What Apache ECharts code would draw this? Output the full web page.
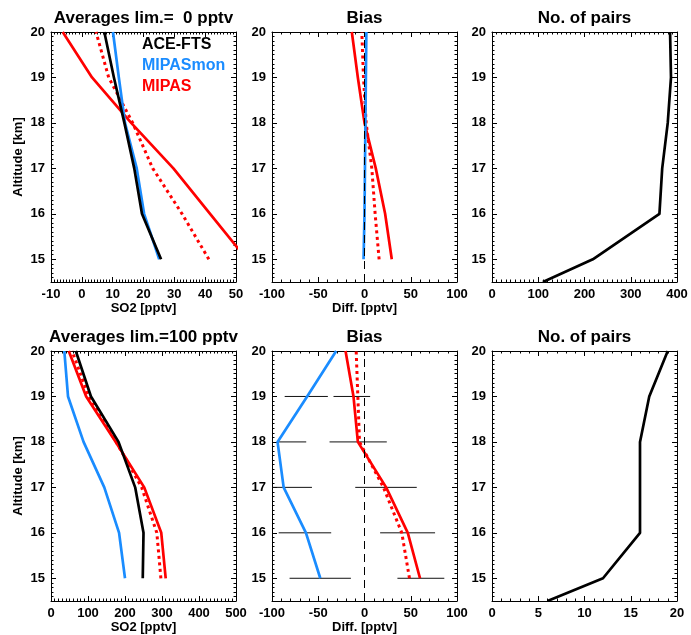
<!DOCTYPE html>
<html>
<head>
<meta charset="utf-8">
<script src="https://cdn.jsdelivr.net/npm/echarts@6/dist/echarts.min.js"></script>
<style>
  html, body { margin: 0; padding: 0; background: #fff; }
  #chart { width: 691px; height: 635px; }
</style>
</head>
<body>
<div id="chart"></div>
<script>
// Altitude levels of the comparison profiles [km]
const altitudes = [15, 16, 17, 18, 19, 20];
const pairAltitudes = [14.5, 15, 16, 17, 18, 19, 20];

// Averages, limit 0 pptv [pptv]
const aceTop = [25.7, 19.5, 17.0, 13.8, 10.4, 7.3];
const monTop = [25.1, 20.2, 17.8, 14.0, 12.0, 10.1];
const mipasTop = [53.5, 41.6, 29.7, 16.0, 3.3, -6.2];
const mipasDotTop = [41.2, 32.5, 23.0, 16.5, 8.7, 4.6];

// Bias, limit 0 pptv [pptv]
const biasMonTop = [-1.0, 0.0, 0.5, 1.0, 1.5, 2.0];
const biasMipasTop = [29.5, 22.3, 12.2, 0.0, -7.2, -13.7];
const biasMipasDotTop = [15.8, 11.5, 7.9, 1.8, -1.1, -2.9];

// Number of pairs, limit 0 pptv
const pairsTop = [110, 218, 362, 368, 380, 387, 385];

// Averages, limit 100 pptv [pptv]
const aceBot = [248, 250, 227.5, 182.5, 108, 67];
const monBot = [200, 184, 144, 88, 46, 36];
const mipasBot = [310, 298, 252, 175, 95, 48];
const mipasDotBot = [297, 286, 245, 176, 102, 57];

// Bias, limit 100 pptv [pptv]
const biasMonBot = [-47.8, -63.3, -87.4, -94.0, -62.0, -30.6];
const biasMipasBot = [60.0, 46.8, 23.4, -7.2, -11.9, -20.5];
const biasMipasDotBot = [48.6, 40.3, 20.5, -5.4, -7.2, -9.0];

// Error bar extents of the bias, limit 100 pptv [pptv]
const errAltitudes = [15, 16, 17, 18, 19];
const errMonLo = [-81.0, -92.8, -100.0, -94.6, -86.3];
const errMonHi = [-14.7, -36.0, -56.8, -63.0, -39.6];
const errMipasLo = [35.6, 16.9, -10.0, -37.8, -33.5];
const errMipasHi = [86.3, 76.3, 56.5, 24.1, 6.1];

// Number of pairs, limit 100 pptv
const pairsBot = [6, 12, 16, 16, 16, 17, 19];

// Tick labels
const altTicks = [15, 16, 17, 18, 19, 20];
const so2TicksTop = [-10, 0, 10, 20, 30, 40, 50];
const so2TicksBot = [0, 100, 200, 300, 400, 500];
const biasTicks = [-100, -50, 0, 50, 100];
const pairTicksTop = [0, 100, 200, 300, 400];
const pairTicksBot = [0, 5, 10, 15, 20];

const FONT = '"Liberation Sans", Arial, Helvetica, sans-serif';
const BLACK = '#000000';
const BLUE = '#1a8cff';
const RED = '#ff0000';
const LW = 2.7;

// evenly spaced minor tick positions between min and max
function steps(min, max, step) {
  const out = [];
  const n = Math.round((max - min) / step);
  for (let i = 0; i <= n; i++) out.push(+(min + i * step).toFixed(6));
  return out;
}

const panels = [
  { left: 51,  top: 32,  xMin: -10,  xMax: 50,  xTicks: so2TicksTop,  xMinor: 1,  xName: 'SO2 [pptv]',   yName: 'Altitude [km]', title: 'Averages lim.=  0 pptv', row: 0 },
  { left: 272, top: 32,  xMin: -100, xMax: 100, xTicks: biasTicks,    xMinor: 10, xName: 'Diff. [pptv]', title: 'Bias', row: 0 },
  { left: 492, top: 32,  xMin: 0,    xMax: 400, xTicks: pairTicksTop, xMinor: 10, xName: '',            title: 'No. of pairs', row: 0 },
  { left: 51,  top: 351, xMin: 0,    xMax: 500, xTicks: so2TicksBot,  xMinor: 10, xName: 'SO2 [pptv]',   yName: 'Altitude [km]', title: 'Averages lim.=100 pptv', row: 1 },
  { left: 272, top: 351, xMin: -100, xMax: 100, xTicks: biasTicks,    xMinor: 10, xName: 'Diff. [pptv]', title: 'Bias', row: 1 },
  { left: 492, top: 351, xMin: 0,    xMax: 20,  xTicks: pairTicksBot, xMinor: 1,  xName: '',            title: 'No. of pairs', row: 1 }
];
const PW = 185, PH = 250, Y_MIN = 14.5, Y_MAX = 20;

const grids = [], xAxes = [], yAxes = [], graphics = [];
const mainX = [], mainY = [];

const tickStyle = { color: BLACK, width: 1 };
const labelStyle = { color: BLACK, fontSize: 13, fontWeight: 'bold', fontFamily: FONT };

panels.forEach((p, i) => {
  grids.push({ left: p.left, top: p.top, width: PW, height: PH, outerBoundsMode: 'none', containLabel: false });

  const xMinorVals = steps(p.xMin, p.xMax, p.xMinor);
  const yMinorVals = steps(Y_MIN, Y_MAX, 0.1);

  const xBase = { type: 'value', gridIndex: i, min: p.xMin, max: p.xMax, splitLine: { show: false } };
  const yBase = { type: 'value', gridIndex: i, min: Y_MIN, max: Y_MAX, splitLine: { show: false } };

  // bottom axis with labels and name
  mainX.push(xAxes.length);
  xAxes.push(Object.assign({}, xBase, {
    position: 'bottom',
    axisLine: { show: true, onZero: false, lineStyle: tickStyle },
    axisTick: { show: true, inside: true, length: 5, customValues: p.xTicks, lineStyle: tickStyle },
    axisLabel: Object.assign({ show: true, customValues: p.xTicks, margin: 6 }, labelStyle),
    name: p.xName, nameLocation: 'middle', nameGap: p.row === 0 ? 16 : 20,
    nameTextStyle: { color: BLACK, fontSize: 13, fontWeight: 'bold', fontFamily: FONT }
  }));
  // mirrored top axis
  xAxes.push(Object.assign({}, xBase, {
    position: 'top',
    axisLine: { show: true, onZero: false, lineStyle: tickStyle },
    axisTick: { show: true, inside: true, length: 5, customValues: p.xTicks, lineStyle: tickStyle },
    axisLabel: { show: false }
  }));
  // minor ticks, bottom and top
  ['bottom', 'top'].forEach(pos => xAxes.push(Object.assign({}, xBase, {
    position: pos,
    axisLine: { show: false, onZero: false },
    axisTick: { show: true, inside: true, length: 2.5, customValues: xMinorVals, lineStyle: tickStyle },
    axisLabel: { show: false }
  })));

  // left axis with labels and name
  mainY.push(yAxes.length);
  yAxes.push(Object.assign({}, yBase, {
    position: 'left',
    axisLine: { show: true, onZero: false, lineStyle: tickStyle },
    axisTick: { show: true, inside: true, length: 5, customValues: altTicks, lineStyle: tickStyle },
    axisLabel: Object.assign({ show: true, customValues: altTicks, margin: 6 }, labelStyle),
    name: p.yName || '', nameLocation: 'middle', nameGap: 26,
    nameTextStyle: { color: BLACK, fontSize: 13, fontWeight: 'bold', fontFamily: FONT }
  }));
  // mirrored right axis
  yAxes.push(Object.assign({}, yBase, {
    position: 'right',
    axisLine: { show: true, onZero: false, lineStyle: tickStyle },
    axisTick: { show: true, inside: true, length: 5, customValues: altTicks, lineStyle: tickStyle },
    axisLabel: { show: false }
  }));
  // minor ticks, left and right
  ['left', 'right'].forEach(pos => yAxes.push(Object.assign({}, yBase, {
    position: pos,
    axisLine: { show: false, onZero: false },
    axisTick: { show: true, inside: true, length: 2.5, customValues: yMinorVals, lineStyle: tickStyle },
    axisLabel: { show: false }
  })));

  graphics.push({
    type: 'text', x: p.left + PW / 2, y: p.top - 14,
    style: { text: p.title, fill: BLACK, font: 'bold 17px ' + FONT, align: 'center', verticalAlign: 'middle' }
  });
});

// Legend of the first panel
[['ACE-FTS', BLACK, 45], ['MIPASmon', BLUE, 66], ['MIPAS', RED, 87]].forEach(([t, c, y]) => {
  graphics.push({ type: 'text', x: 142, y: y, style: { text: t, fill: c, font: 'bold 16px ' + FONT, align: 'left', verticalAlign: 'middle' } });
});

function pts(xs, ys) { return xs.map((v, k) => [v, ys[k]]); }

function lineSeries(panel, xs, ys, color, dotted, extra) {
  return Object.assign({
    type: 'line',
    xAxisIndex: mainX[panel], yAxisIndex: mainY[panel],
    data: pts(xs, ys),
    symbol: 'none', clip: true, silent: true, animation: false,
    lineStyle: { color: color, width: dotted ? 3 : LW, type: dotted ? [3, 3.5] : 'solid', cap: 'butt', join: 'round' }
  }, extra || {});
}

function errorSeries(panel, lo, hi, alt) {
  return {
    type: 'custom',
    xAxisIndex: mainX[panel], yAxisIndex: mainY[panel],
    clip: true, silent: true, animation: false,
    data: lo.map((v, k) => [v, hi[k], alt[k]]),
    encode: { x: [0, 1], y: 2 },
    renderItem: function (params, api) {
      const a = api.coord([api.value(0), api.value(2)]);
      const b = api.coord([api.value(1), api.value(2)]);
      return { type: 'line', shape: { x1: a[0], y1: a[1], x2: b[0], y2: b[1] }, style: { stroke: '#111', lineWidth: 1 } };
    }
  };
}

// dashed reference line at zero difference
const zeroLine = {
  silent: true, symbol: 'none', animation: false,
  label: { show: false },
  lineStyle: { color: BLACK, width: 1, type: [8, 5] },
  data: [{ xAxis: 0 }]
};

const series = [
  // Averages, limit 0
  lineSeries(0, mipasDotTop, altitudes, RED, true),
  lineSeries(0, mipasTop, altitudes, RED, false),
  lineSeries(0, monTop, altitudes, BLUE, false),
  lineSeries(0, aceTop, altitudes, BLACK, false),
  // Bias, limit 0
  lineSeries(1, biasMipasDotTop, altitudes, RED, true, { markLine: zeroLine }),
  lineSeries(1, biasMipasTop, altitudes, RED, false),
  lineSeries(1, biasMonTop, altitudes, BLUE, false),
  // Pairs, limit 0
  lineSeries(2, pairsTop, pairAltitudes, BLACK, false),
  // Averages, limit 100
  lineSeries(3, mipasDotBot, altitudes, RED, true),
  lineSeries(3, mipasBot, altitudes, RED, false),
  lineSeries(3, monBot, altitudes, BLUE, false),
  lineSeries(3, aceBot, altitudes, BLACK, false),
  // Bias, limit 100
  errorSeries(4, errMonLo, errMonHi, errAltitudes),
  errorSeries(4, errMipasLo, errMipasHi, errAltitudes),
  lineSeries(4, biasMipasDotBot, altitudes, RED, true, { markLine: zeroLine }),
  lineSeries(4, biasMipasBot, altitudes, RED, false),
  lineSeries(4, biasMonBot, altitudes, BLUE, false),
  // Pairs, limit 100
  lineSeries(5, pairsBot, pairAltitudes, BLACK, false)
];

const chart = echarts.init(document.getElementById('chart'), null, { renderer: 'canvas' });
chart.setOption({
  backgroundColor: '#ffffff',
  animation: false,
  grid: grids,
  xAxis: xAxes,
  yAxis: yAxes,
  graphic: graphics,
  series: series
});
</script>
</body>
</html>
